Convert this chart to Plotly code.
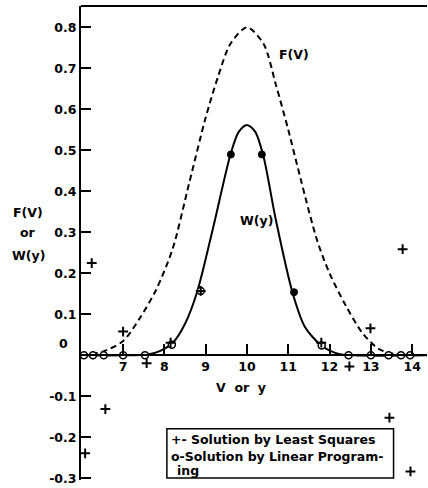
import plotly.graph_objects as go

# F(V) dashed curve
V_F = [6.0, 6.5, 7.0, 7.4, 7.8, 8.2, 8.6, 9.0, 9.3, 9.6, 10.0, 10.4, 10.7, 11.0, 11.3, 11.7, 12.0, 12.4, 12.8, 13.2, 13.6, 14.0]
F_vals = [0.0, 0.009, 0.035, 0.09, 0.16, 0.26, 0.42, 0.58, 0.68, 0.76, 0.80, 0.76, 0.66, 0.55, 0.43, 0.28, 0.20, 0.12, 0.054, 0.015, 0.003, 0.0]

# W(y) solid curve
V_W = [6.0, 7.0, 7.6, 7.9, 8.2, 8.5, 8.8, 9.2, 9.6, 9.8, 10.0, 10.2, 10.4, 10.7, 11.1, 11.4, 11.8, 12.2, 12.6, 14.36]
W_vals = [0.0, 0.0, 0.002, 0.011, 0.03, 0.077, 0.157, 0.32, 0.49, 0.545, 0.562, 0.545, 0.485, 0.33, 0.154, 0.07, 0.024, 0.004, 0.0, 0.0]

# Linear programming solution (open circles)
LP_V = [6.05, 6.27, 6.53, 7.0, 7.53, 8.18, 8.88, 11.81, 12.46, 13.0, 13.43, 13.73, 13.95]
LP_W = [0.0, 0.0, 0.0, 0.0, 0.0, 0.026, 0.157, 0.024, 0.0, 0.0, 0.0, 0.0, 0.0]

# points where both solutions coincide (filled)
BOTH_V = [9.61, 10.36, 11.14]
BOTH_W = [0.49, 0.49, 0.154]

# Least squares solution (plus signs)
LS_V = [6.08, 6.24, 6.57, 7.0, 7.57, 8.15, 8.88, 11.8, 12.48, 12.99, 13.45, 13.77, 13.96]
LS_W = [-0.239, 0.225, -0.131, 0.058, -0.019, 0.031, 0.157, 0.031, -0.027, 0.066, -0.152, 0.259, -0.283]

Y_TICKS = [0.8, 0.7, 0.6, 0.5, 0.4, 0.3, 0.2, 0.1, -0.1, -0.2, -0.3]
Y_TICKTEXT = ["0.8", "0.7", "0.6", "0.5", "0.4", "0.3", "0.2", "0.1", "-0.1", "-0.2", "-0.3"]
X_TICKS = [7, 8, 9, 10, 11, 12, 13, 14]

FONT = "DejaVu Sans"
YMIN, YMAX = -0.304, 0.852
XMIN, XMAX = 5.98, 14.36

fig = go.Figure()
fig.add_trace(go.Scatter(x=V_F, y=F_vals, mode="lines",
                         line=dict(color="black", width=2, dash="6px,4px", shape="spline", smoothing=0.8)))
fig.add_trace(go.Scatter(x=V_W, y=W_vals, mode="lines",
                         line=dict(color="black", width=2, shape="spline", smoothing=0.8)))
fig.add_trace(go.Scatter(x=LP_V, y=LP_W, mode="markers",
                         marker=dict(symbol="circle", size=7, color="white",
                                     line=dict(color="black", width=1.5))))
fig.add_trace(go.Scatter(x=LS_V, y=LS_W, mode="markers",
                         marker=dict(symbol="cross-thin", size=7,
                                     line=dict(color="black", width=2))))
fig.add_trace(go.Scatter(x=BOTH_V, y=BOTH_W, mode="markers",
                         marker=dict(symbol="circle", size=7, color="black",
                                     line=dict(color="black", width=1))))

zero_pos = (0 - YMIN) / (YMAX - YMIN)

fig.update_layout(
    width=428, height=488,
    margin=dict(l=81, r=1, t=6, b=8),
    plot_bgcolor="white", paper_bgcolor="white",
    showlegend=False,
    font=dict(family=FONT, size=12, color="black"),
    xaxis=dict(range=[XMIN, XMAX], anchor="free", position=zero_pos, automargin=False,
               showline=True, linecolor="black", linewidth=2,
               ticks="inside", ticklen=10, tickwidth=1.5, tickcolor="black",
               tickvals=X_TICKS, ticktext=[f"<b>{v}</b>" for v in X_TICKS],
               showgrid=False, zeroline=False, tickfont=dict(size=12.5)),
    yaxis=dict(range=[YMIN, YMAX], automargin=False, showline=True, linecolor="black", linewidth=2,
               ticks="inside", ticklen=10, tickwidth=2, tickcolor="black",
               tickvals=Y_TICKS, ticktext=[f"<b>{t}</b>" for t in Y_TICKTEXT],
               showgrid=False, zeroline=False, tickfont=dict(size=12.5)),
    shapes=[
        dict(type="line", xref="paper", yref="paper", x0=0, x1=1, y0=1, y1=1,
             line=dict(color="black", width=2)),
        dict(type="rect", xref="x", yref="y", x0=8.06, x1=13.55, y0=-0.299, y1=-0.179,
             line=dict(color="black", width=1.5), fillcolor="white", layer="above"),
    ],
)

ann = []
def add(text, x, y, xref="x", yref="y", xanchor="center", size=12.5):
    ann.append(dict(text=f"<b>{text}</b>", x=x, y=y, xref=xref, yref=yref,
                    xanchor=xanchor, yanchor="middle", showarrow=False,
                    font=dict(family=FONT, size=size, color="black")))

add("0", -0.05, 0.03, xref="paper")
add("F(V)", -0.153, 0.348, xref="paper")
add("or", -0.153, 0.299, xref="paper")
add("W(y)", -0.153, 0.243, xref="paper")
add("V  or  y", 9.85, -0.078)
add("F(V)", 11.15, 0.733)
add("W(y)", 10.24, 0.33)
add("+- Solution by Least Squares", 8.1, -0.204, xanchor="left", size=12.5)
add("o-Solution by Linear Program-", 8.1, -0.247, xanchor="left", size=12.5)
add("ing", 8.26, -0.281, xanchor="left", size=12.5)
fig.update_layout(annotations=ann)

fig.write_html("out.html", config={"displayModeBar": False},
               post_script="document.body.style.margin='0';document.body.style.overflow='hidden';")
